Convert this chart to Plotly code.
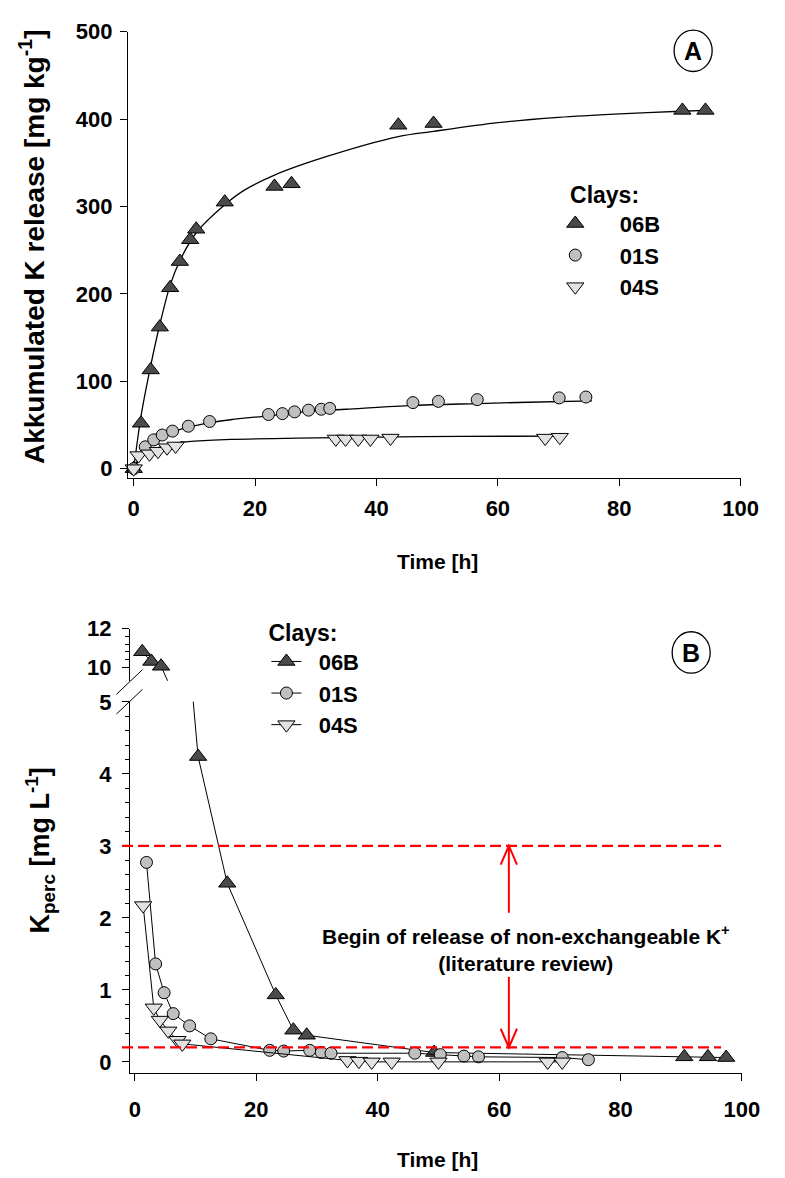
import plotly.graph_objects as go

# ---------------- data: panel A (accumulated K release, mg/kg) ----------------
t06B_A = [0, 1.2, 2.8, 4.3, 6.0, 7.6, 9.3, 10.3, 15.0, 23.2, 26.0, 43.6, 49.4, 90.4, 94.2]
k06B_A = [0, 52, 113, 162, 207, 237, 262, 274, 305, 323, 326, 393, 395, 410, 410]

t01S_A = [0, 1.9, 3.3, 4.7, 6.4, 9.0, 12.5, 22.2, 24.5, 26.5, 28.8, 30.9, 32.3, 46.0, 50.2, 56.6, 70.1, 74.5]
k01S_A = [0, 25, 33, 38.5, 43, 48.6, 54, 62, 63, 65, 67, 68, 69, 75.6, 77, 79, 81, 82]

t04S_A = [0, 0.8, 2.6, 4.0, 5.5, 6.9, 33.3, 34.9, 37.0, 39.0, 42.3, 67.8, 70.2]
k04S_A = [0, 15, 17, 20, 24, 26, 34, 34, 34, 34, 35, 35, 36]

# fitted curves
fit06B_t = [0, 1.2, 2.8, 4.3, 6.0, 7.6, 10.3, 15, 18.3, 23.2, 31.7, 43.6, 49.4, 60, 70, 80, 90, 94.5]
fit06B_k = [0, 60, 118, 165, 210, 238, 270, 302, 319, 336, 357, 380, 386, 396, 402, 406, 409, 410]

fit01S_t = [0, 1, 2, 3.3, 4.7, 6.4, 9, 12.5, 16, 22.2, 28.8, 35, 46, 56.6, 65, 75.5]
fit01S_k = [0, 14, 24, 32, 37.5, 42, 47.5, 52.5, 56, 60.5, 65.5, 68, 72.5, 74.5, 76, 77.5]

fit04S_t = [0, 0.8, 2, 3, 4, 5.5, 7, 8, 10, 16, 27, 40, 54, 71.3]
fit04S_k = [0, 9, 17, 21, 24, 27, 29, 30.5, 31.5, 33.5, 35, 36, 37, 37.2]

# ---------------- data: panel B (K_perc, mg/L) ----------------
t06B_B = [1.2, 2.7, 4.3, 10.4, 15.2, 23.2, 26.1, 28.3, 49.3, 90.5, 94.4, 97.4]
c06B_B = [10.8, 10.3, 10.05, 4.24, 2.48, 0.93, 0.44, 0.37, 0.13, 0.07, 0.07, 0.06]

t01S_B = [1.9, 3.4, 4.8, 6.3, 9.0, 12.5, 22.2, 24.5, 28.8, 30.7, 32.3, 46.1, 50.3, 54.2, 56.6, 70.4, 74.7]
c01S_B = [2.77, 1.36, 0.96, 0.67, 0.50, 0.32, 0.16, 0.15, 0.16, 0.13, 0.12, 0.12, 0.10, 0.08, 0.07, 0.06, 0.03]

t04S_B = [1.35, 3.1, 4.1, 5.5, 7.0, 7.8, 35.0, 36.9, 39.0, 42.3, 50.0, 68.0, 70.4]
c04S_B = [2.17, 0.75, 0.58, 0.43, 0.30, 0.25, 0.02, 0.01, 0.0, 0.0, 0.0, 0.0, 0.0]

thresholds = [3.0, 0.2]
arrow_x = 61.6

names = ["06B", "01S", "04S"]
symbols = ["triangle-up", "circle", "triangle-down"]
fills = ["#4a4a4a", "#c0c0c0", "#e2e2e2"]
msize = [15, 12, 15]

W, H = 785, 1178
def px(x):
    return x / W
def py(y):
    return 1 - y / H

FONT = "Liberation Sans, Arial, sans-serif"
NB = "\u00a0"

fig = go.Figure()

# ---- panel A ----
for tt, kk in [(fit06B_t, fit06B_k), (fit01S_t, fit01S_k), (fit04S_t, fit04S_k)]:
    fig.add_trace(go.Scatter(x=tt, y=kk, mode="lines", line=dict(color="black", width=1.3, shape="spline", smoothing=0.8),
                             showlegend=False, hoverinfo="skip", xaxis="x", yaxis="y", cliponaxis=False))
for i, (tt, kk) in enumerate([(t06B_A, k06B_A), (t01S_A, k01S_A), (t04S_A, k04S_A)]):
    fig.add_trace(go.Scatter(x=tt, y=kk, mode="markers", name=NB * 4 + names[i],
                             marker=dict(symbol=symbols[i], size=msize[i], color=fills[i], line=dict(color="black", width=1)),
                             xaxis="x", yaxis="y", legend="legend", cliponaxis=False))

# ---- panel B ----
for i, (tt, cc) in enumerate([(t06B_B, c06B_B), (t01S_B, c01S_B), (t04S_B, c04S_B)]):
    for ya, show in [("y2", True), ("y3", False)]:
        fig.add_trace(go.Scatter(x=tt, y=cc, mode="lines+markers", name=NB * 2 + names[i],
                                 line=dict(color="black", width=1),
                                 marker=dict(symbol=symbols[i], size=msize[i], color=fills[i], line=dict(color="black", width=1)),
                                 xaxis="x2", yaxis=ya, legend="legend2", showlegend=show, cliponaxis=True))

tickfont = dict(family=FONT, size=22, color="black", weight="bold")
axis_common = dict(showline=True, linecolor="black", linewidth=1, ticks="outside", ticklen=7, tickcolor="black",
                   showgrid=False, zeroline=False, tickfont=tickfont)

leg_font = dict(family=FONT, size=22, color="black", weight="bold")
leg_title_font = dict(family=FONT, size=23, color="black", weight="bold")

fig.update_layout(
    width=W, height=H, margin=dict(l=0, r=0, t=0, b=0),
    paper_bgcolor="white", plot_bgcolor="white",
    xaxis=dict(domain=[px(130), px(758)], range=[-0.965, 100], tickvals=[0, 20, 40, 60, 80, 100], anchor="y",
               ticklabelstandoff=4, **axis_common),
    yaxis=dict(domain=[py(472), py(20)], range=[-10.2, 500], tickvals=[0, 100, 200, 300, 400, 500], anchor="x",
               ticklabelstandoff=3, **axis_common),
    xaxis2=dict(domain=[px(132), px(759.3)], range=[-0.85, 100], tickvals=[0, 20, 40, 60, 80, 100], anchor="y2",
                ticklabelstandoff=9, **axis_common),
    yaxis2=dict(domain=[py(1076), py(699.3)], range=[-0.16, 5], tickvals=[0, 1, 2, 3, 4, 5], anchor="x2",
                ticklabelstandoff=6, minor=dict(dtick=0.2, ticklen=4, ticks="outside", tickcolor="black"), **axis_common),
    yaxis3=dict(domain=[py(678), py(625)], range=[9.3, 12], tickvals=[10, 12], anchor="x2",
                ticklabelstandoff=6, minor=dict(tickvals=[10.4, 10.8, 11.2, 11.6], ticklen=4, ticks="outside", tickcolor="black"),
                **axis_common),
    legend=dict(x=px(568), y=py(163), xanchor="left", yanchor="top", bgcolor="rgba(0,0,0,0)",
                title=dict(text=NB * 2 + "Clays:", font=leg_title_font), font=leg_font, tracegroupgap=0),
    legend2=dict(x=px(272), y=py(607), xanchor="left", yanchor="top", bgcolor="rgba(0,0,0,0)",
                 title=dict(text="Clays:", font=leg_title_font), font=leg_font, tracegroupgap=0),
)

ann_font = dict(family=FONT, size=21, color="black", weight="bold")
def ann(text, x, y, font, angle=0):
    return dict(text=text, x=px(x), y=py(y), xref="paper", yref="paper", showarrow=False,
                xanchor="center", yanchor="middle", textangle=angle, font=font, align="center")

annotations = [
    ann("Time [h]", 447, 557, ann_font),
    ann("Time [h]", 447, 1163, ann_font),
    ann("Akkumulated K release [mg kg<sup>-1</sup>]", 32, 238,
        dict(family=FONT, size=28, color="black", weight="bold"), -90),
    ann("K<sub>perc</sub> [mg L<sup>-1</sup>]", 40, 850,
        dict(family=FONT, size=27, color="black", weight="bold"), -90),
    ann("A", 709.3, 40, dict(family=FONT, size=25, color="black", weight="bold")),
    ann("B", 707.3, 650, dict(family=FONT, size=25, color="black", weight="bold")),
    ann("Begin of release of non-exchangeable K<sup>+</sup><br>(literature review)", 538, 949,
        dict(family=FONT, size=21, color="black", weight="bold")),
]
fig.update_layout(annotations=annotations)

shapes = []
# circled panel letters
for cx, cy in [(709.3, 39.3), (707.3, 649.3)]:
    shapes.append(dict(type="circle", xref="paper", yref="paper", x0=px(cx - 19.5), x1=px(cx + 19.5),
                       y0=py(cy + 21), y1=py(cy - 21), line=dict(color="black", width=1.3)))
# axis break marks
for y0, y1 in [(691.7, 666.7), (711.7, 686.7)]:
    shapes.append(dict(type="line", xref="paper", yref="paper", x0=px(118.3), x1=px(145), y0=py(y0), y1=py(y1),
                       line=dict(color="black", width=1)))
# red dashed threshold lines
for thr in thresholds:
    shapes.append(dict(type="line", xref="paper", yref="y2", x0=px(124), x1=px(738), y0=thr, y1=thr,
                       line=dict(color="#ff0000", width=2.2, dash="11px,5px")))
# red arrows
shapes.append(dict(type="line", xref="x2", yref="y2", x0=arrow_x, x1=arrow_x, y0=thresholds[0], y1=2.07,
                   line=dict(color="#ff0000", width=2)))
shapes.append(dict(type="line", xref="x2", yref="y2", x0=arrow_x, x1=arrow_x, y0=1.18, y1=thresholds[1],
                   line=dict(color="#ff0000", width=2)))
dx, dy = 1.34, 0.26
shapes.append(dict(type="path", xref="x2", yref="y2",
                   path=f"M{arrow_x - dx},{thresholds[0] - dy} L{arrow_x},{thresholds[0]} L{arrow_x + dx},{thresholds[0] - dy}",
                   line=dict(color="#ff0000", width=2)))
shapes.append(dict(type="path", xref="x2", yref="y2",
                   path=f"M{arrow_x - dx},{thresholds[1] + dy} L{arrow_x},{thresholds[1]} L{arrow_x + dx},{thresholds[1] + dy}",
                   line=dict(color="#ff0000", width=2)))
fig.update_layout(shapes=shapes)

fig.write_html("out.html", config={"displayModeBar": False},
               post_script="document.body.style.margin='0px';")
